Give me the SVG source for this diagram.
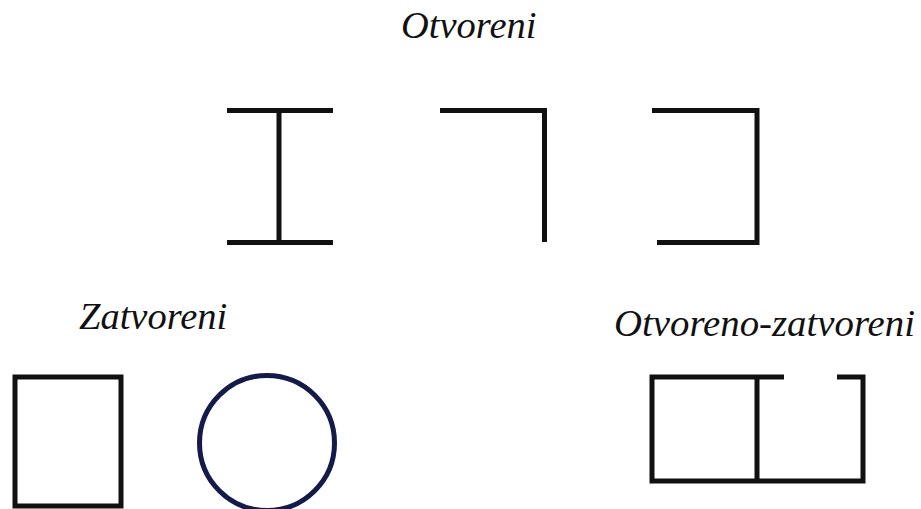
<svg xmlns="http://www.w3.org/2000/svg" width="921" height="509" viewBox="0 0 921 509">
<style>
.s{fill:none;stroke:#111;stroke-width:5;stroke-linecap:butt;stroke-linejoin:miter}
.t{font-family:"Liberation Serif","Times New Roman",serif;font-style:italic;font-size:38.5px;fill:#111}
</style>
<rect width="921" height="509" fill="#fff"/>
<text class="t" x="401" y="38">Otvoreni</text>
<text class="t" x="79" y="329">Zatvoreni</text>
<text class="t" x="614" y="336" style="font-size:38.8px">Otvoreno-zatvoreni</text>
<g id="ibeam">
<path class="s" d="M227 110.5H333M279 110.5V242.5M227 242.5H333"/>
</g>
<g id="angle">
<path class="s" d="M440 110.5H544.5V242"/>
</g>
<g id="channel">
<path class="s" d="M652 110.5H757V242.5H657"/>
</g>
<g id="rect">
<rect class="s" x="15" y="377" width="106" height="129"/>
</g>
<g id="circle">
<circle cx="267" cy="443" r="67.5" fill="none" stroke="#141a4a" stroke-width="5"/>
</g>
<g id="openclosed">
<path class="s" d="M784 377H652V481H863V377H837M757 377V481"/>
</g>
</svg>
